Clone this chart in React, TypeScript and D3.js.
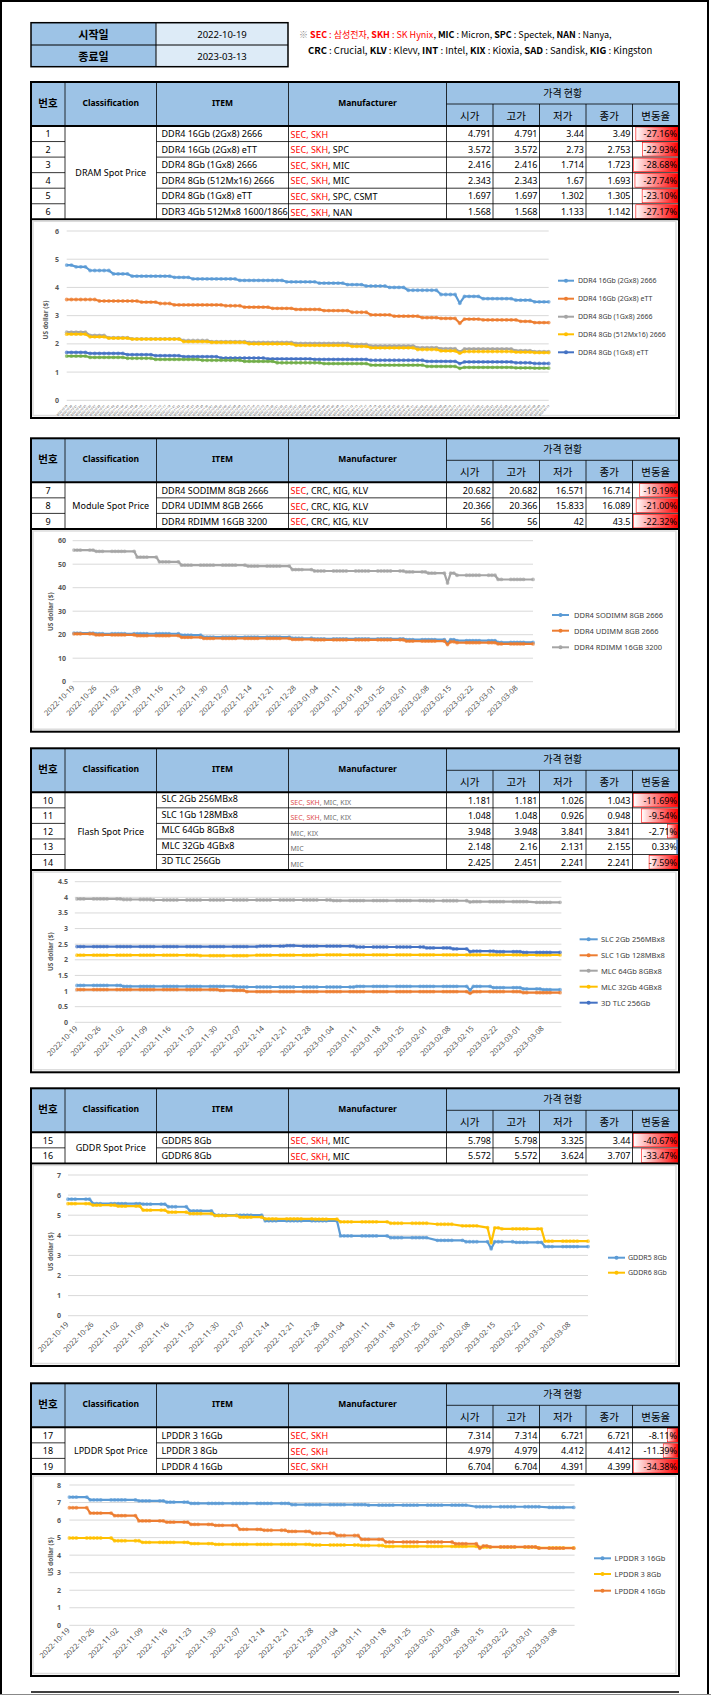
import React from 'react';
import * as d3 from 'd3';

const FONT = "'Noto Sans', 'Noto Sans CJK KR', sans-serif";
const KFONT = "'Noto Sans CJK KR', 'Noto Sans', sans-serif";

const C_BLUE = '#5B9BD5', C_ORANGE = '#ED7D31', C_GREY = '#A5A5A5', C_YELLOW = '#FFC000', C_DBLUE = '#4472C4', C_GREEN = '#70AD47';

// ---------- period ----------
const START_DATE = '2022-10-19';
const END_DATE = '2023-03-13';
const weekTicks = ['2022-10-19', '2022-10-26', '2022-11-02', '2022-11-09', '2022-11-16', '2022-11-23', '2022-11-30', '2022-12-07', '2022-12-14', '2022-12-21', '2022-12-28', '2023-01-04', '2023-01-11', '2023-01-18', '2023-01-25', '2023-02-01', '2023-02-08', '2023-02-15', '2023-02-22', '2023-03-01', '2023-03-08'];

// ---------- table headings ----------
const headerCols = ['번호', 'Classification', 'ITEM', 'Manufacturer'];
const priceGroup = '가격 현황';
const priceCols = ['시가', '고가', '저가', '종가', '변동율'];

// ---------- DRAM ----------
const dramNo = [1, 2, 3, 4, 5, 6];
const dramItems = ['DDR4 16Gb (2Gx8) 2666', 'DDR4 16Gb (2Gx8) eTT', 'DDR4 8Gb (1Gx8) 2666', 'DDR4 8Gb (512Mx16) 2666', 'DDR4 8Gb (1Gx8) eTT', 'DDR3 4Gb 512Mx8 1600/1866'];
const dramMakers = ['SEC, SKH', 'SEC, SKH, SPC', 'SEC, SKH, MIC', 'SEC, SKH, MIC', 'SEC, SKH, SPC, CSMT', 'SEC, SKH, NAN'];
const dramOpen = [4.791, 3.572, 2.416, 2.343, 1.697, 1.568];
const dramHigh = [4.791, 3.572, 2.416, 2.343, 1.697, 1.568];
const dramLow = [3.44, 2.73, 1.714, 1.67, 1.302, 1.133];
const dramClose = [3.49, 2.753, 1.723, 1.693, 1.305, 1.142];
const dramChange = [-27.16, -22.93, -28.68, -27.74, -23.10, -27.17];

// ---------- Module ----------
const modNo = [7, 8, 9];
const modItems = ['DDR4 SODIMM 8GB 2666', 'DDR4 UDIMM 8GB 2666', 'DDR4 RDIMM 16GB 3200'];
const modMakers = ['SEC, CRC, KIG, KLV', 'SEC, CRC, KIG, KLV', 'SEC, CRC, KIG, KLV'];
const modOpen = [20.682, 20.366, 56];
const modHigh = [20.682, 20.366, 56];
const modLow = [16.571, 15.833, 42];
const modClose = [16.714, 16.089, 43.5];
const modChange = [-19.19, -21.00, -22.32];

// ---------- Flash ----------
const flashNo = [10, 11, 12, 13, 14];
const flashItems = ['SLC 2Gb 256MBx8', 'SLC 1Gb 128MBx8', 'MLC 64Gb 8GBx8', 'MLC 32Gb 4GBx8', '3D TLC 256Gb'];
const flashMakers = ['SEC, SKH, MIC, KIX', 'SEC, SKH, MIC, KIX', 'MIC, KIX', 'MIC', 'MIC'];
const flashOpen = [1.181, 1.048, 3.948, 2.148, 2.425];
const flashHigh = [1.181, 1.048, 3.948, 2.16, 2.451];
const flashLow = [1.026, 0.926, 3.841, 2.131, 2.241];
const flashClose = [1.043, 0.948, 3.841, 2.155, 2.241];
const flashChange = [-11.69, -9.54, -2.71, 0.33, -7.59];

// ---------- GDDR ----------
const gddrNo = [15, 16];
const gddrItems = ['GDDR5 8Gb', 'GDDR6 8Gb'];
const gddrMakers = ['SEC, SKH, MIC', 'SEC, SKH, MIC'];
const gddrOpen = [5.798, 5.572];
const gddrHigh = [5.798, 5.572];
const gddrLow = [3.325, 3.624];
const gddrClose = [3.44, 3.707];
const gddrChange = [-40.67, -33.47];

// ---------- LPDDR ----------
const lpNo = [17, 18, 19];
const lpItems = ['LPDDR 3 16Gb', 'LPDDR 3 8Gb', 'LPDDR 4 16Gb'];
const lpMakers = ['SEC, SKH', 'SEC, SKH', 'SEC, SKH'];
const lpOpen = [7.314, 4.979, 6.704];
const lpHigh = [7.314, 4.979, 6.704];
const lpLow = [6.721, 4.412, 4.391];
const lpClose = [6.721, 4.412, 4.399];
const lpChange = [-8.11, -11.39, -34.38];

// ---------- daily price series ----------
// each entry: [price, number of consecutive trading days at that price]
type Run = [number, number];
const dram16_2666: Run[] = [[4.791, 2], [4.73, 3], [4.6, 5], [4.48, 4], [4.4, 9], [4.36, 4], [4.3, 10], [4.25, 10], [4.2, 7], [4.15, 6], [4.1, 4], [4.05, 5], [4.0, 4], [3.9, 7], [3.75, 4], [3.44, 1], [3.68, 4], [3.6, 7], [3.55, 4], [3.49, 4]];
const dram16_ett: Run[] = [[3.572, 7], [3.52, 9], [3.48, 4], [3.43, 3], [3.38, 11], [3.35, 4], [3.3, 6], [3.26, 5], [3.22, 6], [3.18, 6], [3.12, 4], [3.03, 5], [2.98, 6], [2.93, 4], [2.9, 4], [2.73, 1], [2.88, 4], [2.85, 8], [2.8, 3], [2.753, 4]];
const dram8_2666: Run[] = [[2.416, 5], [2.3, 4], [2.22, 5], [2.18, 11], [2.12, 6], [2.08, 8], [2.05, 10], [2.02, 12], [1.98, 4], [1.93, 10], [1.87, 5], [1.83, 4], [1.714, 1], [1.82, 11], [1.76, 4], [1.723, 4]];
const dram8_512: Run[] = [[2.343, 5], [2.25, 4], [2.2, 5], [2.17, 11], [2.08, 6], [2.05, 8], [2.0, 10], [1.95, 12], [1.91, 4], [1.86, 10], [1.8, 5], [1.75, 4], [1.67, 1], [1.73, 11], [1.71, 4], [1.693, 4]];
const dram8_ett: Run[] = [[1.697, 5], [1.66, 8], [1.62, 6], [1.58, 6], [1.55, 8], [1.5, 10], [1.47, 10], [1.45, 12], [1.42, 12], [1.38, 7], [1.302, 1], [1.36, 11], [1.33, 4], [1.305, 4]];
const ddr3_4g: Run[] = [[1.568, 5], [1.52, 8], [1.49, 6], [1.45, 10], [1.42, 9], [1.38, 7], [1.33, 10], [1.3, 10], [1.25, 12], [1.2, 7], [1.133, 1], [1.17, 11], [1.15, 4], [1.142, 4]];

const sodimm: Run[] = [[20.682, 5], [20.4, 19], [19.8, 5], [19.0, 20], [18.5, 5], [18.2, 21], [17.9, 9], [16.571, 1], [17.9, 2], [17.5, 9], [16.714, 8]];
const udimm: Run[] = [[20.366, 5], [19.9, 9], [19.6, 10], [18.9, 5], [18.4, 20], [18.0, 5], [17.8, 21], [17.3, 9], [15.833, 1], [17.0, 2], [16.6, 9], [16.089, 8]];
const rdimm: Run[] = [[56, 5], [55.5, 9], [53, 5], [51, 5], [49.6, 15], [49.2, 10], [47.7, 5], [47.1, 21], [46.7, 5], [46.2, 4], [42, 1], [46.2, 2], [45.3, 9], [43.5, 8]];

const slc2g: Run[] = [[1.181, 10], [1.15, 24], [1.13, 26], [1.15, 24], [1.026, 1], [1.15, 4], [1.11, 7], [1.07, 4], [1.043, 4]];
const slc1g: Run[] = [[1.048, 31], [1.02, 6], [0.98, 47], [0.926, 1], [0.98, 11], [0.948, 8]];
const mlc64g: Run[] = [[3.948, 10], [3.93, 7], [3.915, 38], [3.895, 20], [3.89, 9], [3.85, 1], [3.86, 13], [3.841, 6]];
const mlc32g: Run[] = [[2.148, 27], [2.131, 11], [2.148, 14], [2.16, 44], [2.155, 8]];
const tlc256g: Run[] = [[2.425, 39], [2.44, 6], [2.451, 3], [2.44, 12], [2.41, 15], [2.38, 6], [2.35, 3], [2.26, 1], [2.28, 5], [2.26, 6], [2.241, 8]];

const gddr5: Run[] = [[5.798, 5], [5.58, 10], [5.55, 5], [5.42, 4], [5.22, 5], [5.0, 10], [4.72, 15], [3.97, 10], [3.88, 9], [3.75, 6], [3.68, 5], [3.325, 1], [3.68, 4], [3.65, 6], [3.44, 9]];
const gddr6: Run[] = [[5.572, 5], [5.5, 5], [5.45, 5], [5.25, 5], [5.15, 4], [5.08, 5], [4.98, 5], [4.9, 5], [4.82, 10], [4.8, 5], [4.67, 10], [4.6, 9], [4.55, 5], [4.47, 5], [4.38, 1], [3.624, 1], [4.37, 2], [4.32, 8], [3.707, 9]];

const lp3_16: Run[] = [[7.314, 4], [7.15, 10], [7.1, 6], [7.02, 5], [6.95, 21], [6.88, 16], [6.85, 21], [6.76, 15], [6.721, 6]];
const lp3_8: Run[] = [[4.979, 9], [4.82, 6], [4.73, 10], [4.66, 5], [4.62, 20], [4.58, 10], [4.55, 5], [4.5, 19], [4.46, 13], [4.412, 7]];
const lp4_16: Run[] = [[6.704, 4], [6.4, 5], [6.25, 5], [5.95, 6], [5.88, 5], [5.75, 5], [5.7, 5], [5.47, 5], [5.42, 5], [5.35, 5], [5.25, 5], [5.12, 5], [4.9, 5], [4.75, 14], [4.65, 5], [4.391, 1], [4.53, 2], [4.47, 10], [4.399, 7]];

// ---------- helpers ----------
const parse = d3.timeParse('%Y-%m-%d');
const fmtDate = d3.timeFormat('%Y-%m-%d');
const tradingDays = d3.timeDay
  .range(parse(START_DATE)!, d3.timeDay.offset(parse(END_DATE)!, 1))
  .filter((d) => d.getDay() !== 0 && d.getDay() !== 6);
const expandRuns = (runs: Run[]) => runs.flatMap(([v, n]) => d3.range(n).map(() => v));

const COLS = [31, 65, 156.5, 288.5, 446.5, 493, 539.5, 586, 632.5, 679];
const HEADER_H = 44;
const ROW_H = 15.55;
const RED_MAKERS = ['SEC', 'SKH'];

type Series = { name: string; color: string; runs: Run[] };
type ChartCfg = {
  mode: 'category' | 'time';
  gx: [number, number];
  dx: [number, number];
  y0: number;
  yTopPx: number;
  yMax: number;
  yStep: number;
  tickRight: number;
  title: [number, number];
  labelTop: number;
  legend: { x0: number; x1: number; tx: number; ys: number[]; fs: number };
  series: Series[];
};
type SectionCfg = {
  top: number;
  bottom: number;
  cls: string;
  nums: number[];
  items: string[];
  makers: string[];
  open: number[];
  high: number[];
  low: number[];
  close: number[];
  change: number[];
  smallMaker?: boolean;
  chart: ChartCfg;
};

const sections: SectionCfg[] = [
  {
    top: 82, bottom: 418, cls: 'DRAM Spot Price', nums: dramNo, items: dramItems, makers: dramMakers,
    open: dramOpen, high: dramHigh, low: dramLow, close: dramClose, change: dramChange,
    chart: {
      mode: 'category', gx: [66.7, 548.7], dx: [66.7, 548.7], y0: 400.3, yTopPx: 231, yMax: 6, yStep: 1,
      tickRight: 59, title: [45, 320], labelTop: 406,
      legend: { x0: 558, x1: 574, tx: 578, ys: [280.7, 298.7, 316.7, 334.3, 352.3], fs: 7 },
      series: [
        { name: dramItems[0], color: C_BLUE, runs: dram16_2666 },
        { name: dramItems[1], color: C_ORANGE, runs: dram16_ett },
        { name: dramItems[2], color: C_GREY, runs: dram8_2666 },
        { name: dramItems[3], color: C_YELLOW, runs: dram8_512 },
        { name: dramItems[4], color: C_DBLUE, runs: dram8_ett },
        { name: dramItems[5], color: C_GREEN, runs: ddr3_4g },
      ],
    },
  },
  {
    top: 438.3, bottom: 731.7, cls: 'Module Spot Price', nums: modNo, items: modItems, makers: modMakers,
    open: modOpen, high: modHigh, low: modLow, close: modClose, change: modChange,
    chart: {
      mode: 'time', gx: [72.6, 533], dx: [74, 533], y0: 681.7, yTopPx: 540.7, yMax: 60, yStep: 10,
      tickRight: 66, title: [50, 611.7], labelTop: 686.5,
      legend: { x0: 552, x1: 569, tx: 574, ys: [615, 630.7, 647.3], fs: 7.5 },
      series: [
        { name: modItems[0], color: C_BLUE, runs: sodimm },
        { name: modItems[1], color: C_ORANGE, runs: udimm },
        { name: modItems[2], color: C_GREY, runs: rdimm },
      ],
    },
  },
  {
    top: 748.3, bottom: 1072.3, cls: 'Flash Spot Price', nums: flashNo, items: flashItems, makers: flashMakers,
    open: flashOpen, high: flashHigh, low: flashLow, close: flashClose, change: flashChange, smallMaker: true,
    chart: {
      mode: 'time', gx: [74.8, 561.4], dx: [77, 560], y0: 1022.3, yTopPx: 881.7, yMax: 4.5, yStep: 0.5,
      tickRight: 68, title: [50.8, 951.7], labelTop: 1027,
      legend: { x0: 579.6, x1: 597.7, tx: 601, ys: [939.3, 955.3, 970.7, 986.7, 1002.7], fs: 7.5 },
      series: [
        { name: flashItems[0], color: C_BLUE, runs: slc2g },
        { name: flashItems[1], color: C_ORANGE, runs: slc1g },
        { name: flashItems[2], color: C_GREY, runs: mlc64g },
        { name: flashItems[3], color: C_YELLOW, runs: mlc32g },
        { name: flashItems[4], color: C_DBLUE, runs: tlc256g },
      ],
    },
  },
  {
    top: 1088.3, bottom: 1366, cls: 'GDDR Spot Price', nums: gddrNo, items: gddrItems, makers: gddrMakers,
    open: gddrOpen, high: gddrHigh, low: gddrLow, close: gddrClose, change: gddrChange,
    chart: {
      mode: 'time', gx: [68, 588], dx: [68, 588], y0: 1315.7, yTopPx: 1175, yMax: 7, yStep: 1,
      tickRight: 61, title: [50, 1251.7], labelTop: 1323,
      legend: { x0: 608, x1: 625, tx: 628, ys: [1257.7, 1272.7], fs: 7 },
      series: [
        { name: gddrItems[0], color: C_BLUE, runs: gddr5 },
        { name: gddrItems[1], color: C_YELLOW, runs: gddr6 },
      ],
    },
  },
  {
    top: 1383.3, bottom: 1676, cls: 'LPDDR Spot Price', nums: lpNo, items: lpItems, makers: lpMakers,
    open: lpOpen, high: lpHigh, low: lpLow, close: lpClose, change: lpChange,
    chart: {
      mode: 'time', gx: [69.4, 574.6], dx: [69.4, 573.7], y0: 1625.3, yTopPx: 1485, yMax: 8, yStep: 1,
      tickRight: 61, title: [50, 1556.7], labelTop: 1629,
      legend: { x0: 594, x1: 611, tx: 614.5, ys: [1558.3, 1574, 1590.7], fs: 7.5 },
      series: [
        { name: lpItems[0], color: C_BLUE, runs: lp3_16 },
        { name: lpItems[1], color: C_YELLOW, runs: lp3_8 },
        { name: lpItems[2], color: C_ORANGE, runs: lp4_16 },
      ],
    },
  },
];

function Makers({ text, x, y, small }: { text: string; x: number; y: number; small?: boolean }) {
  const toks = text.split(', ');
  const red = small ? '#E0504F' : '#FF0000';
  const other = small ? '#6F6F6F' : '#000';
  return (
    <text x={x} y={y} fontSize={small ? 7 : 9} dominantBaseline="central" style={{ whiteSpace: 'pre' }}>
      {toks.map((t, i) => {
        const isRed = RED_MAKERS.includes(t);
        const nextRed = i < toks.length - 1 && RED_MAKERS.includes(toks[i + 1]);
        return (
          <React.Fragment key={i}>
            <tspan fill={isRed ? red : other}>{t}</tspan>
            {i < toks.length - 1 && <tspan fill={isRed && nextRed ? red : other}>{', '}</tspan>}
          </React.Fragment>
        );
      })}
    </text>
  );
}

function Chart({ ch }: { ch: ChartCfg }) {
  const n = tradingDays.length;
  const y = d3.scaleLinear().domain([0, ch.yMax]).range([ch.y0, ch.yTopPx]);
  const xPoint = d3.scalePoint<number>().domain(d3.range(n)).range(ch.dx);
  const xTime = d3.scaleTime().domain([parse(START_DATE)!, parse(END_DATE)!]).range(ch.dx);
  const xOf = (i: number) => (ch.mode === 'category' ? (xPoint(i) as number) : xTime(tradingDays[i]));
  const ticks = d3.range(0, ch.yMax + ch.yStep / 2, ch.yStep);
  const line = d3.line<number>().x((_, i) => xOf(i)).y((v) => y(v));
  const legendSeries = ch.series.slice(0, ch.legend.ys.length);
  return (
    <g>
      {ticks.map((t) => (
        <g key={t}>
          <line x1={ch.gx[0]} x2={ch.gx[1]} y1={y(t)} y2={y(t)} stroke="#D9D9D9" strokeWidth={1} />
          <text x={ch.tickRight} y={y(t)} textAnchor="end" dominantBaseline="central" fontSize={7} fill="#595959" fontWeight="bold">
            {String(+t.toFixed(2))}
          </text>
        </g>
      ))}
      <text
        transform={`translate(${ch.title[0]},${ch.title[1]}) rotate(-90)`}
        textAnchor="middle"
        dominantBaseline="central"
        fontSize={6.5}
        fontWeight="bold"
        fill="#595959"
      >
        US dollar ($)
      </text>
      {ch.mode === 'category'
        ? tradingDays.map((d, i) => (
            <text key={i} transform={`translate(${xOf(i) + 1},${ch.labelTop}) rotate(-45)`} textAnchor="end" fontSize={2.7} fill="#404040">
              {fmtDate(d)}
            </text>
          ))
        : weekTicks.map((t) => (
            <text
              key={t}
              transform={`translate(${xTime(parse(t)!) + 1},${ch.labelTop + 2}) rotate(-45)`}
              textAnchor="end"
              fontSize={7.5}
              fill="#505050"
            >
              {t}
            </text>
          ))}
      {ch.series.map((s) => {
        const vals = expandRuns(s.runs);
        return (
          <g key={s.name}>
            <path d={line(vals) || ''} fill="none" stroke={s.color} strokeWidth={2.2} strokeLinejoin="round" />
            {vals.map((v, i) => (
              <circle key={i} cx={xOf(i)} cy={y(v)} r={1.9} fill={s.color} opacity={0.7} />
            ))}
          </g>
        );
      })}
      {legendSeries.map((s, i) => (
        <g key={s.name}>
          <line x1={ch.legend.x0} x2={ch.legend.x1} y1={ch.legend.ys[i]} y2={ch.legend.ys[i]} stroke={s.color} strokeWidth={2} />
          <circle cx={(ch.legend.x0 + ch.legend.x1) / 2} cy={ch.legend.ys[i]} r={2} fill={s.color} />
          <text x={ch.legend.tx} y={ch.legend.ys[i]} dominantBaseline="central" fontSize={ch.legend.fs} fill="#404040">
            {s.name}
          </text>
        </g>
      ))}
    </g>
  );
}

function Section({ s }: { s: SectionCfg }) {
  const top = s.top;
  const hb = top + HEADER_H;
  const tb = hb + s.items.length * ROW_H;
  const maxAbs = d3.max(s.change, (v) => Math.abs(v)) || 1;
  const barW = COLS[9] - COLS[8] - 2;
  return (
    <g>
      {/* header */}
      <rect x={COLS[0]} y={top} width={COLS[9] - COLS[0]} height={HEADER_H} fill="#9DC3E6" />
      {headerCols.map((h, i) => (
        <text
          key={h}
          x={(COLS[i] + COLS[i + 1]) / 2}
          y={top + 20}
          textAnchor="middle"
          dominantBaseline="central"
          fontWeight="bold"
          fontSize={i === 0 ? 10.5 : 8.5}
          fontFamily={i === 0 ? KFONT : FONT}
        >
          {h}
        </text>
      ))}
      <text x={(COLS[4] + COLS[9]) / 2} y={top + 10.5} textAnchor="middle" dominantBaseline="central" fontSize={10} fontFamily={KFONT}>
        {priceGroup}
      </text>
      {priceCols.map((h, i) => (
        <text key={h} x={(COLS[4 + i] + COLS[5 + i]) / 2} y={top + 33} textAnchor="middle" dominantBaseline="central" fontSize={10.5} fontFamily={KFONT}>
          {h}
        </text>
      ))}
      {/* header lines */}
      <line x1={COLS[4]} x2={COLS[9]} y1={top + 22} y2={top + 22} stroke="#000" strokeWidth={0.8} />
      {COLS.slice(1, 9).map((c, i) => (
        <line key={c} x1={c} x2={c} y1={i < 4 ? top : top + 22} y2={tb} stroke="#000" strokeWidth={0.8} />
      ))}
      {/* rows */}
      {s.items.map((item, r) => {
        const ry = hb + r * ROW_H;
        const cy = ry + ROW_H / 2;
        const nums = [s.open[r], s.high[r], s.low[r], s.close[r]];
        const ch = s.change[r];
        const w = (Math.abs(ch) / maxAbs) * barW;
        return (
          <g key={item}>
            {r > 0 && (
              <>
                <line x1={COLS[0]} x2={COLS[1]} y1={ry} y2={ry} stroke="#000" strokeWidth={0.8} />
                <line x1={COLS[2]} x2={COLS[9]} y1={ry} y2={ry} stroke="#000" strokeWidth={0.8} />
              </>
            )}
            <text x={(COLS[0] + COLS[1]) / 2} y={cy} textAnchor="middle" dominantBaseline="central" fontSize={9}>
              {s.nums[r]}
            </text>
            <text x={COLS[2] + 5} y={cy - (s.smallMaker ? 1.5 : 0)} dominantBaseline="central" fontSize={9}>
              {item}
            </text>
            <Makers text={s.makers[r]} x={COLS[3] + 2} y={cy + (s.smallMaker ? 1.5 : 0)} small={s.smallMaker} />
            {nums.map((v, k) => (
              <text key={k} x={COLS[5 + k] - 2} y={cy} textAnchor="end" dominantBaseline="central" fontSize={9}>
                {String(v)}
              </text>
            ))}
            {ch < 0 ? (
              <rect x={COLS[9] - 1 - w} y={ry + 1} width={w} height={ROW_H - 2} fill="url(#negBar)" stroke="#FF0000" strokeWidth={0.6} />
            ) : (
              <rect x={COLS[9] - 1 - Math.max(w, 1.2)} y={ry + 1} width={Math.max(w, 1.2)} height={ROW_H - 2} fill="#638EC6" stroke="#3A6CC0" strokeWidth={0.5} />
            )}
            <text x={COLS[9] - 2} y={cy} textAnchor="end" dominantBaseline="central" fontSize={9}>
              {ch.toFixed(2) + '%'}
            </text>
          </g>
        );
      })}
      <text x={(COLS[1] + COLS[2]) / 2} y={(hb + tb) / 2} textAnchor="middle" dominantBaseline="central" fontSize={9}>
        {s.cls}
      </text>
      <line x1={COLS[0]} x2={COLS[9]} y1={hb} y2={hb} stroke="#000" strokeWidth={2} />
      <line x1={COLS[0]} x2={COLS[9]} y1={tb} y2={tb} stroke="#000" strokeWidth={2} />
      {/* chart area */}
      <rect x={33} y={tb + 2} width={676 - 33} height={s.bottom - tb - 4.5} fill="#fff" stroke="#DCDCDC" strokeWidth={1.5} />
      <Chart ch={s.chart} />
      <rect x={COLS[0]} y={top} width={COLS[9] - COLS[0]} height={s.bottom - top} fill="none" stroke="#000" strokeWidth={2} />
    </g>
  );
}

const noteLine1: [string, string, boolean][] = [
  ['※ ', '#8C8C8C', false],
  ['SEC', '#FF0000', true],
  [' : 삼성전자, ', '#FF0000', false],
  ['SKH', '#FF0000', true],
  [' : SK Hynix', '#FF0000', false],
  [', ', '#000', false],
  ['MIC', '#000', true],
  [' : Micron, ', '#000', false],
  ['SPC', '#000', true],
  [' : Spectek, ', '#000', false],
  ['NAN', '#000', true],
  [' : Nanya,', '#000', false],
];
const noteLine2: [string, string, boolean][] = [
  ['CRC', '#000', true],
  [' : Crucial, ', '#000', false],
  ['KLV', '#000', true],
  [' : Klevv, ', '#000', false],
  ['INT', '#000', true],
  [' : Intel, ', '#000', false],
  ['KIX', '#000', true],
  [' : Kioxia, ', '#000', false],
  ['SAD', '#000', true],
  [' : Sandisk, ', '#000', false],
  ['KIG', '#000', true],
  [' : Kingston', '#000', false],
];

export default function App() {
  return (
    <svg
      width={711}
      height={1695}
      viewBox="0 0 711 1695"
      style={{ position: 'absolute', left: 0, top: 0, display: 'block' }}
      fontFamily={FONT}
    >
      <defs>
        <linearGradient id="negBar" x1="0" x2="1" y1="0" y2="0">
          <stop offset="0" stopColor="#FFFFFF" />
          <stop offset="0.15" stopColor="#FFD6D6" />
          <stop offset="1" stopColor="#FF0000" />
        </linearGradient>
      </defs>
      <rect x={0} y={0} width={711} height={1695} fill="#fff" />
      {/* page frame */}
      <line x1={1} x2={1} y1={0} y2={1695} stroke="#000" strokeWidth={2} />
      <line x1={708} x2={708} y1={0} y2={1695} stroke="#000" strokeWidth={2} />
      <line x1={0} x2={709} y1={1} y2={1} stroke="#000" strokeWidth={2} />
      {/* period table */}
      <rect x={31} y={22.7} width={125} height={44} fill="#9DC3E6" />
      <rect x={156} y={22.7} width={132} height={44} fill="#DDEBF7" />
      <rect x={31} y={22.7} width={257} height={44} fill="none" stroke="#000" strokeWidth={1.5} />
      <line x1={31} x2={288} y1={45} y2={45} stroke="#000" strokeWidth={1} />
      <line x1={156} x2={156} y1={22.7} y2={66.7} stroke="#000" strokeWidth={1} />
      <text x={93.5} y={34} textAnchor="middle" dominantBaseline="central" fontWeight="bold" fontSize={11} fontFamily={KFONT}>시작일</text>
      <text x={93.5} y={56} textAnchor="middle" dominantBaseline="central" fontWeight="bold" fontSize={11} fontFamily={KFONT}>종료일</text>
      <text x={222} y={34} textAnchor="middle" dominantBaseline="central" fontSize={9.5}>{START_DATE}</text>
      <text x={222} y={56} textAnchor="middle" dominantBaseline="central" fontSize={9.5}>{END_DATE}</text>
      {/* note */}
      <text x={299} y={37.5} fontSize={9} fontFamily={KFONT} style={{ whiteSpace: 'pre' }}>
        {noteLine1.map(([t, c, b], i) => (
          <tspan key={i} fill={c} fontWeight={b ? 'bold' : 'normal'}>{t}</tspan>
        ))}
      </text>
      <text x={308} y={53.5} fontSize={9.5} fontFamily={KFONT} style={{ whiteSpace: 'pre' }}>
        {noteLine2.map(([t, c, b], i) => (
          <tspan key={i} fill={c} fontWeight={b ? 'bold' : 'normal'}>{t}</tspan>
        ))}
      </text>
      {sections.map((s) => (
        <Section key={s.cls} s={s} />
      ))}
      <line x1={31} x2={679} y1={1692} y2={1692} stroke="#000" strokeWidth={1.5} />
      <line x1={0} x2={711} y1={1694.5} y2={1694.5} stroke="#888" strokeWidth={1} />
    </svg>
  );
}
